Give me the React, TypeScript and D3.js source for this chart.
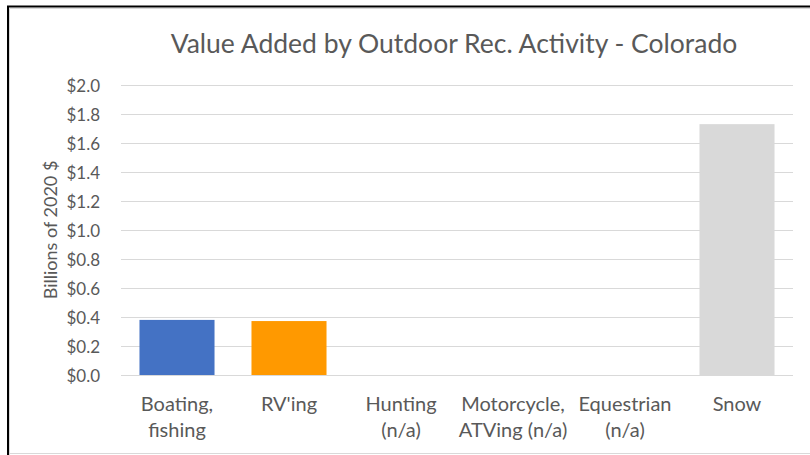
import React from "react";
import * as d3 from "d3";

const categories = [
  ["Boating,", "fishing"],
  ["RV'ing"],
  ["Hunting", "(n/a)"],
  ["Motorcycle,", "ATVing (n/a)"],
  ["Equestrian", "(n/a)"],
  ["Snow"],
];
const values = [0.38, 0.372, 0, 0, 0, 1.73];
const barColors = ["#4472C4", "#FF9900", "#A5A5A5", "#FFC000", "#5B9BD5", "#D9D9D9"];
const yTicks = [0, 0.2, 0.4, 0.6, 0.8, 1.0, 1.2, 1.4, 1.6, 1.8, 2.0];
const title = "Value Added by Outdoor Rec. Activity - Colorado";
const yTitle = "Billions of 2020 $";

const W = 810, H = 455;
const left = 121, right = 793, top = 85, bottom = 375;
const FONT = "Lato, 'Open Sans', sans-serif";
const TXT = "#595959";

export default function App() {
  const x = d3.scaleBand<number>().domain(d3.range(categories.length)).range([left, right]).paddingInner(0.33).paddingOuter(0.165);
  const y = d3.scaleLinear().domain([0, 2]).range([bottom, top]);
  const fmt = (v: number) => "$" + d3.format(".1f")(v);
  return (
    <svg width={W} height={H} style={{ position: "absolute", left: 0, top: 0, background: "#fff" }}>
      <rect x={0} y={0} width={W} height={H} fill="#fff" />
      {/* frame */}
      <line x1={9.5} y1={8.5} x2={W} y2={8.5} stroke="#d9d9d9" strokeWidth={1} />
      <line x1={9.5} y1={8.5} x2={9.5} y2={H} stroke="#d9d9d9" strokeWidth={1} />
      <line x1={9.5} y1={453.5} x2={W} y2={453.5} stroke="#d9d9d9" strokeWidth={1} />
      <line x1={7} y1={6.5} x2={W} y2={6.5} stroke="#000" strokeWidth={2} />
      <line x1={8} y1={6} x2={8} y2={H} stroke="#000" strokeWidth={2} />
      <text x={454} y={53} textAnchor="middle" fontFamily={FONT} fontSize={26.5} fill={TXT}>{title}</text>
      {yTicks.map((t) => (
        <g key={t}>
          <line x1={left} x2={right} y1={Math.round(y(t)) + 0.5} y2={Math.round(y(t)) + 0.5} stroke="#d9d9d9" strokeWidth={1} />
          <text x={100} y={y(t) + 6.5} textAnchor="end" fontFamily={FONT} fontSize={17} fill={TXT}>{fmt(t)}</text>
        </g>
      ))}
      <text transform={`translate(57,${(top + bottom) / 2}) rotate(-90)`} textAnchor="middle" fontFamily={FONT} fontSize={18} fill={TXT}>{yTitle}</text>
      {values.map((v, i) => (
        v > 0 ? <rect key={i} x={x(i)} y={y(v)} width={x.bandwidth()} height={y(0) - y(v)} fill={barColors[i]} /> : null
      ))}
      {categories.map((lines, i) => (
        <text key={i} textAnchor="middle" fontFamily={FONT} fontSize={20} fill={TXT}>
          {lines.map((l, j) => (
            <tspan key={j} x={(x(i) as number) + x.bandwidth() / 2} y={411 + j * 26}>{l}</tspan>
          ))}
        </text>
      ))}
    </svg>
  );
}
